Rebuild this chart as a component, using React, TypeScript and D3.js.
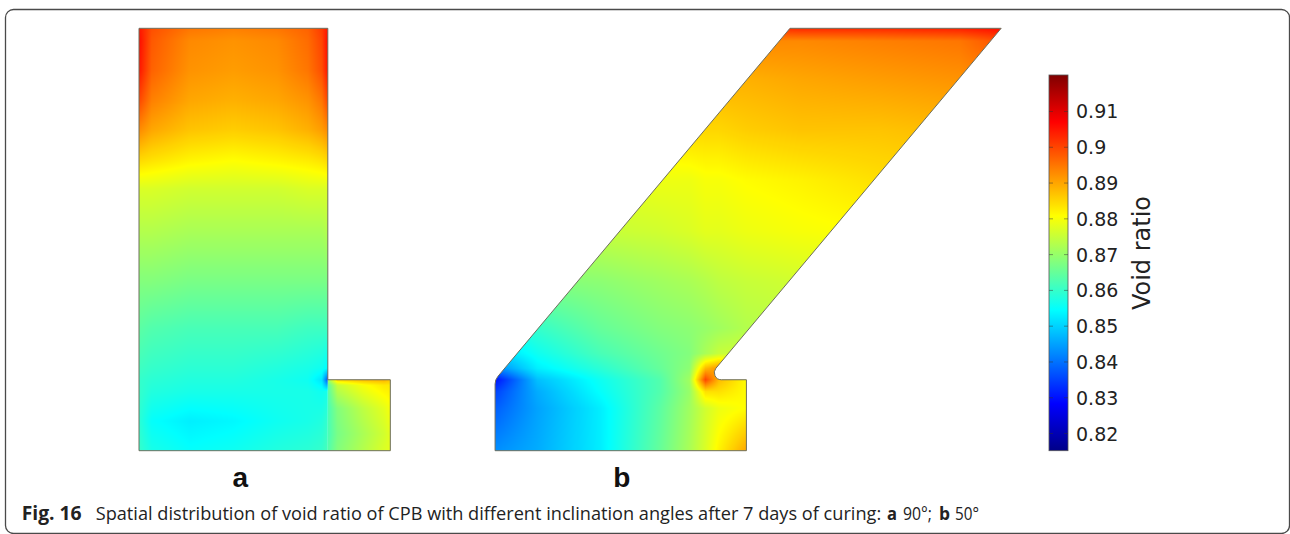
import React, { useMemo, useRef, useState, useLayoutEffect } from "react";
import * as d3 from "d3";

// ---------- data ----------
const VMIN = 0.8152;
const VMAX = 0.9202;
const CB_TICKS = [0.82, 0.83, 0.84, 0.85, 0.86, 0.87, 0.88, 0.89, 0.9, 0.91];
const CB_LABEL = "Void ratio";
const PANEL_LABELS = ["a", "b"];
const INCLINATION = [90, 50];

// model geometry (model units, height = 10)
const MODEL_HEIGHT = 10;
const TALL_WIDTH = 4.47;
const FOOT_WIDTH = 5.95;
const STEP_HEIGHT = 1.68;
const INCLINE_WIDTH = 5.0;
const FILLET_NOTCH = 0.166;
const FILLET_CORNER = 0.28;

// panel a, tall column: void ratio sampled on grid
const A_COLS = [0, 0.3, 1.2, 2.24, 3.27, 4.0, 4.33, 4.47];
const A_ROWS = [10, 9.7, 9.0, 8.3, 7.6, 6.9, 6.2, 5.2, 4.0, 2.9, 1.95, 1.68, 1.4, 0.7, 0];
const A_VALUES = [
  [0.905, 0.899, 0.895, 0.894, 0.895, 0.897, 0.901, 0.905],
  [0.906, 0.898, 0.893, 0.892, 0.893, 0.896, 0.9, 0.906],
  [0.905, 0.897, 0.892, 0.891, 0.892, 0.895, 0.899, 0.905],
  [0.9, 0.894, 0.89, 0.889, 0.89, 0.892, 0.895, 0.9],
  [0.893, 0.89, 0.887, 0.886, 0.887, 0.889, 0.891, 0.893],
  [0.885, 0.884, 0.882, 0.881, 0.882, 0.883, 0.884, 0.885],
  [0.877, 0.877, 0.876, 0.876, 0.876, 0.877, 0.877, 0.877],
  [0.873, 0.873, 0.872, 0.872, 0.872, 0.872, 0.872, 0.873],
  [0.868, 0.868, 0.867, 0.867, 0.867, 0.867, 0.867, 0.867],
  [0.864, 0.863, 0.862, 0.862, 0.862, 0.861, 0.861, 0.861],
  [0.861, 0.86, 0.859, 0.859, 0.858, 0.857, 0.856, 0.854],
  [0.86, 0.859, 0.858, 0.858, 0.857, 0.856, 0.852, 0.836],
  [0.86, 0.858, 0.857, 0.857, 0.857, 0.857, 0.856, 0.857],
  [0.859, 0.855, 0.853, 0.854, 0.856, 0.857, 0.858, 0.86],
  [0.86, 0.857, 0.855, 0.856, 0.858, 0.859, 0.86, 0.862],
];

// panel a, foot
const A_FOOT_COLS = [4.47, 4.7, 5.3, 5.8, 5.95];
const A_FOOT_ROWS = [1.68, 1.55, 1.0, 0.4, 0];
const A_FOOT_VALUES = [
  [0.87, 0.885, 0.888, 0.889, 0.887],
  [0.864, 0.875, 0.88, 0.883, 0.883],
  [0.862, 0.868, 0.874, 0.878, 0.88],
  [0.862, 0.867, 0.872, 0.876, 0.878],
  [0.863, 0.868, 0.873, 0.877, 0.878],
];

// panel b (columns relative to the left edge of panel b)
const B_COLS = [0, 1.0, 2.5, 3.9, 4.6, 4.98, 5.3, 5.95, 7.2, 9.1, 11.0, 12.0];
const B_ROWS = [10, 9.7, 8.8, 7.6, 6.4, 5.2, 4.0, 2.9, 2.3, 1.95, 1.68, 1.4, 1.0, 0];
const B_VALUES = [
  [0.9, 0.9, 0.9, 0.9, 0.9, 0.9, 0.9, 0.901, 0.903, 0.903, 0.904, 0.906],
  [0.893, 0.893, 0.893, 0.893, 0.893, 0.893, 0.893, 0.893, 0.893, 0.894, 0.895, 0.899],
  [0.889, 0.889, 0.889, 0.889, 0.889, 0.889, 0.889, 0.889, 0.89, 0.891, 0.892, 0.894],
  [0.884, 0.884, 0.884, 0.884, 0.885, 0.885, 0.885, 0.886, 0.887, 0.887, 0.888, 0.889],
  [0.878, 0.878, 0.878, 0.879, 0.879, 0.88, 0.88, 0.881, 0.882, 0.884, 0.885, 0.886],
  [0.874, 0.874, 0.875, 0.876, 0.877, 0.878, 0.878, 0.879, 0.88, 0.881, 0.882, 0.882],
  [0.867, 0.868, 0.869, 0.871, 0.872, 0.873, 0.874, 0.875, 0.876, 0.877, 0.878, 0.878],
  [0.857, 0.86, 0.865, 0.868, 0.869, 0.87, 0.871, 0.873, 0.874, 0.875, 0.876, 0.876],
  [0.85, 0.856, 0.862, 0.866, 0.868, 0.872, 0.875, 0.876, 0.876, 0.876, 0.876, 0.876],
  [0.842, 0.853, 0.859, 0.865, 0.869, 0.888, 0.892, 0.88, 0.88, 0.88, 0.88, 0.88],
  [0.83, 0.848, 0.856, 0.863, 0.871, 0.9, 0.888, 0.881, 0.88, 0.88, 0.88, 0.88],
  [0.835, 0.846, 0.855, 0.863, 0.87, 0.884, 0.884, 0.881, 0.88, 0.88, 0.88, 0.88],
  [0.838, 0.845, 0.853, 0.864, 0.871, 0.876, 0.879, 0.881, 0.88, 0.88, 0.88, 0.88],
  [0.843, 0.846, 0.853, 0.865, 0.872, 0.877, 0.882, 0.89, 0.89, 0.89, 0.89, 0.89],
];

const CAPTION_HEAD = "Fig. 16";
const CAPTION_BODY =
  "Spatial distribution of void ratio of CPB with different inclination angles after 7 days of curing:";

// ---------- layout ----------
const W = 1290;
const H = 534;
const B_OFFSET = 8.43;
const X_MAX = 20.41;
const pxPerUnit = 42.24;

const xScale = d3.scaleLinear().domain([0, X_MAX]).range([139, 139 + X_MAX * pxPerUnit]);
const yScale = d3.scaleLinear().domain([0, MODEL_HEIGHT]).range([450.7, 28.3]);

const jetStops = [0, 0.125, 0.375, 0.625, 0.875, 1];
const jet = d3
  .scaleLinear<string>()
  .domain(jetStops.map((t) => VMIN + t * (VMAX - VMIN)))
  .range(["#000088", "#0000ff", "#00ffff", "#ffff00", "#ff0000", "#800000"])
  .clamp(true);

const cbY = d3.scaleLinear().domain([VMIN, VMAX]).range([450.7, 75]);

type Pt = [number, number];

function roundedPath(pts: Pt[], radii: number[]): string {
  const n = pts.length;
  let d = "";
  for (let i = 0; i < n; i++) {
    const B = pts[i];
    const A = pts[(i - 1 + n) % n];
    const C = pts[(i + 1) % n];
    const r = radii[i];
    if (!r) {
      d += (i === 0 ? "M" : "L") + B[0] + "," + B[1];
      continue;
    }
    const v1x = A[0] - B[0], v1y = A[1] - B[1];
    const v2x = C[0] - B[0], v2y = C[1] - B[1];
    const l1 = Math.hypot(v1x, v1y), l2 = Math.hypot(v2x, v2y);
    const cos = (v1x * v2x + v1y * v2y) / (l1 * l2);
    const theta = Math.acos(Math.max(-1, Math.min(1, cos)));
    const t = r / Math.tan(theta / 2);
    const P1: Pt = [B[0] + (v1x / l1) * t, B[1] + (v1y / l1) * t];
    const P2: Pt = [B[0] + (v2x / l2) * t, B[1] + (v2y / l2) * t];
    const cross = (B[0] - A[0]) * (C[1] - B[1]) - (B[1] - A[1]) * (C[0] - B[0]);
    const sweep = cross > 0 ? 1 : 0;
    d += (i === 0 ? "M" : "L") + P1[0] + "," + P1[1];
    d += `A${r},${r} 0 0 ${sweep} ${P2[0]},${P2[1]}`;
  }
  return d + "Z";
}

const LUT_N = 1024;
function buildLut() {
  const lut = new Uint8ClampedArray(LUT_N * 3);
  for (let i = 0; i < LUT_N; i++) {
    const v = VMIN + (i / (LUT_N - 1)) * (VMAX - VMIN);
    const c = d3.rgb(jet(v));
    lut[i * 3] = c.r;
    lut[i * 3 + 1] = c.g;
    lut[i * 3 + 2] = c.b;
  }
  return lut;
}

function findIdx(arr: number[], x: number) {
  let i = d3.bisectRight(arr, x) - 1;
  if (i < 0) i = 0;
  if (i > arr.length - 2) i = arr.length - 2;
  return i;
}

function fieldImage(
  cols: number[],
  rowsDesc: number[],
  valuesDesc: number[][],
  uOff: number,
  lut: Uint8ClampedArray
) {
  const c = cols.map((u) => u + uOff);
  const rows = rowsDesc.slice().reverse();
  const vals = valuesDesc.slice().reverse();
  const px0 = Math.floor(xScale(c[0]));
  const px1 = Math.ceil(xScale(c[c.length - 1]));
  const py0 = Math.floor(yScale(rows[rows.length - 1]));
  const py1 = Math.ceil(yScale(rows[0]));
  const w = px1 - px0, h = py1 - py0;
  const canvas = document.createElement("canvas");
  canvas.width = w;
  canvas.height = h;
  const ctx = canvas.getContext("2d")!;
  const img = ctx.createImageData(w, h);
  for (let j = 0; j < h; j++) {
    let v = yScale.invert(py0 + j + 0.5);
    v = Math.max(rows[0], Math.min(rows[rows.length - 1], v));
    const ri = findIdx(rows, v);
    const fv = (v - rows[ri]) / (rows[ri + 1] - rows[ri]);
    for (let i = 0; i < w; i++) {
      let u = xScale.invert(px0 + i + 0.5);
      u = Math.max(c[0], Math.min(c[c.length - 1], u));
      const ci = findIdx(c, u);
      const fu = (u - c[ci]) / (c[ci + 1] - c[ci]);
      const a = vals[ri][ci] * (1 - fu) + vals[ri][ci + 1] * fu;
      const b = vals[ri + 1][ci] * (1 - fu) + vals[ri + 1][ci + 1] * fu;
      const val = a * (1 - fv) + b * fv;
      let k = Math.round(((val - VMIN) / (VMAX - VMIN)) * (LUT_N - 1));
      k = Math.max(0, Math.min(LUT_N - 1, k));
      const o = (j * w + i) * 4;
      img.data[o] = lut[k * 3];
      img.data[o + 1] = lut[k * 3 + 1];
      img.data[o + 2] = lut[k * 3 + 2];
      img.data[o + 3] = 255;
    }
  }
  ctx.putImageData(img, 0, 0);
  return { url: canvas.toDataURL(), x: px0, y: py0, w, h };
}

const P = (u: number, v: number): Pt => [xScale(u), yScale(v)];

// fits a text to a target width by horizontal scaling (measured after mount)
function FitText(props: {
  x: number;
  y: number;
  width: number;
  bold?: boolean;
  size: number;
  children: React.ReactNode;
}) {
  const ref = useRef<SVGTextElement>(null);
  const [sx, setSx] = useState(1);
  useLayoutEffect(() => {
    if (ref.current) {
      const L = ref.current.getComputedTextLength();
      if (L > 0) setSx(props.width / L);
    }
  }, [props.width]);
  return (
    <text
      ref={ref}
      transform={`translate(${props.x},${props.y}) scale(${sx},1)`}
      fontFamily="'Open Sans', sans-serif"
      fontWeight={props.bold ? "bold" : "normal"}
      fontSize={props.size}
      fill="#222"
    >
      {props.children}
    </text>
  );
}

export default function App() {
  const imgs = useMemo(() => {
    const lut = buildLut();
    return {
      aTall: fieldImage(A_COLS, A_ROWS, A_VALUES, 0, lut),
      aFoot: fieldImage(A_FOOT_COLS, A_FOOT_ROWS, A_FOOT_VALUES, 0, lut),
      b: fieldImage(B_COLS, B_ROWS, B_VALUES, B_OFFSET, lut),
    };
  }, []);

  const aPts: Pt[] = [
    P(0, 0),
    P(FOOT_WIDTH, 0),
    P(FOOT_WIDTH, STEP_HEIGHT),
    P(TALL_WIDTH, STEP_HEIGHT),
    P(TALL_WIDTH, MODEL_HEIGHT),
    P(0, MODEL_HEIGHT),
  ];
  const aPath = roundedPath(aPts, aPts.map(() => 0));
  const aTallClip = roundedPath(
    [P(0, 0), P(TALL_WIDTH, 0), P(TALL_WIDTH, MODEL_HEIGHT), P(0, MODEL_HEIGHT)],
    [0, 0, 0, 0]
  );
  const aFootClip = roundedPath(
    [P(TALL_WIDTH, 0), P(FOOT_WIDTH, 0), P(FOOT_WIDTH, STEP_HEIGHT), P(TALL_WIDTH, STEP_HEIGHT)],
    [0, 0, 0, 0]
  );

  const dx = (MODEL_HEIGHT - STEP_HEIGHT) / Math.tan((INCLINATION[1] * Math.PI) / 180);
  const o = B_OFFSET;
  const bPts: Pt[] = [
    P(o, 0),
    P(o + FOOT_WIDTH, 0),
    P(o + FOOT_WIDTH, STEP_HEIGHT),
    P(o + INCLINE_WIDTH, STEP_HEIGHT),
    P(o + INCLINE_WIDTH + dx, MODEL_HEIGHT),
    P(o + dx, MODEL_HEIGHT),
    P(o, STEP_HEIGHT),
  ];
  const bRadii = [0, 0, 0, FILLET_NOTCH * pxPerUnit, 0, 0, FILLET_CORNER * pxPerUnit];
  const bPath = roundedPath(bPts, bRadii);

  const gradStops = d3.range(0, 41).map((i) => i / 40);
  const labelX = [xScale(2.4), xScale(B_OFFSET + 3.0)];

  return (
    <svg
      width={W}
      height={H}
      viewBox={`0 0 ${W} ${H}`}
      style={{ position: "absolute", left: 0, top: 0, display: "block", background: "#fff" }}
    >
      <defs>
        <clipPath id="clipATall">
          <path d={aTallClip} />
        </clipPath>
        <clipPath id="clipAFoot">
          <path d={aFootClip} />
        </clipPath>
        <clipPath id="clipB">
          <path d={bPath} />
        </clipPath>
        <linearGradient id="cbGrad" x1="0" y1="0" x2="0" y2="1">
          {gradStops.map((t) => (
            <stop key={t} offset={t} stopColor={jet(VMAX - t * (VMAX - VMIN))} />
          ))}
        </linearGradient>
      </defs>

      <rect x={5.5} y={9.5} width={1284} height={524} rx={8} ry={8} fill="none" stroke="#4a4a4a" strokeWidth={1.3} />

      <image href={imgs.aTall.url} x={imgs.aTall.x} y={imgs.aTall.y} width={imgs.aTall.w} height={imgs.aTall.h} clipPath="url(#clipATall)" preserveAspectRatio="none" />
      <image href={imgs.aFoot.url} x={imgs.aFoot.x} y={imgs.aFoot.y} width={imgs.aFoot.w} height={imgs.aFoot.h} clipPath="url(#clipAFoot)" preserveAspectRatio="none" />
      <path d={aPath} fill="none" stroke="#6e6e5e" strokeWidth={1} />

      <image href={imgs.b.url} x={imgs.b.x} y={imgs.b.y} width={imgs.b.w} height={imgs.b.h} clipPath="url(#clipB)" preserveAspectRatio="none" />
      <path d={bPath} fill="none" stroke="#6e6e5e" strokeWidth={1} />

      {PANEL_LABELS.map((l, i) => (
        <text
          key={l}
          x={labelX[i]}
          y={486.7}
          textAnchor="middle"
          fontFamily="'Liberation Sans', Arial, sans-serif"
          fontWeight="bold"
          fontSize={28}
          fill="#111"
        >
          {l}
        </text>
      ))}

      <rect x={1049} y={cbY(VMAX)} width={19} height={cbY(VMIN) - cbY(VMAX)} fill="url(#cbGrad)" stroke="#555" strokeWidth={0.8} />
      {CB_TICKS.map((t) => (
        <g key={t}>
          <line x1={1049} x2={1053} y1={cbY(t)} y2={cbY(t)} stroke="#333" strokeOpacity={0.6} strokeWidth={0.8} />
          <line x1={1064} x2={1068} y1={cbY(t)} y2={cbY(t)} stroke="#333" strokeOpacity={0.6} strokeWidth={0.8} />
          <text x={1076} y={cbY(t) + 7} fontFamily="'DejaVu Sans', sans-serif" fontSize={19} fill="#222">
            {String(+t.toFixed(2))}
          </text>
        </g>
      ))}
      <text
        transform={`translate(1150,253) rotate(-90)`}
        textAnchor="middle"
        fontFamily="'DejaVu Sans', sans-serif"
        fontSize={24}
        fill="#222"
      >
        {CB_LABEL}
      </text>

      <FitText x={21.7} y={520} width={60} bold size={19}>{CAPTION_HEAD}</FitText>
      <FitText x={95.7} y={520} width={786} size={19}>{CAPTION_BODY}</FitText>
      <FitText x={887} y={520} width={10} bold size={18}>{PANEL_LABELS[0]}</FitText>
      <FitText x={903} y={520} width={29} size={18}>{`${INCLINATION[0]}°;`}</FitText>
      <FitText x={939} y={520} width={11} bold size={18}>{PANEL_LABELS[1]}</FitText>
      <FitText x={955} y={520} width={24} size={18}>{`${INCLINATION[1]}°`}</FitText>
    </svg>
  );
}
